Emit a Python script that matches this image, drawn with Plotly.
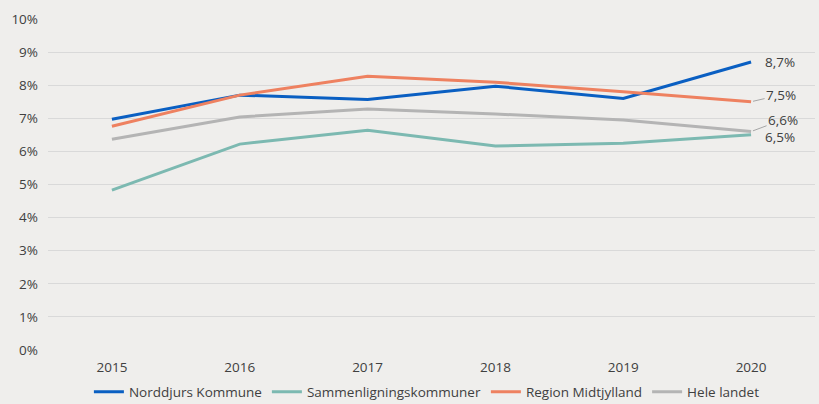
import plotly.graph_objects as go

years = ["2015", "2016", "2017", "2018", "2019", "2020"]
norddjurs = [6.97, 7.70, 7.57, 7.97, 7.60, 8.70]
sammenligning = [4.83, 6.22, 6.64, 6.16, 6.25, 6.50]
region = [6.76, 7.70, 8.27, 8.09, 7.80, 7.50]
hele_landet = [6.37, 7.04, 7.28, 7.13, 6.95, 6.60]

series = [
    ("Norddjurs Kommune", norddjurs, "#0a5fc2"),
    ("Sammenligningskommuner", sammenligning, "#7cb9b1"),
    ("Region Midtjylland", region, "#ee8160"),
    ("Hele landet", hele_landet, "#b4b4b4"),
]

end_labels = [
    # (series values, text, ax, ay, leader)
    (norddjurs, "8,7%", 29, 0, False),
    (region, "7,5%", 30, -7, True),
    (hele_landet, "6,6%", 32, -12, True),
    (sammenligning, "6,5%", 29, 2, False),
]

FONT = "Open Sans"
FS = 13.5

fig = go.Figure()
for name, vals, col in series:
    fig.add_trace(go.Scatter(
        x=years, y=vals, mode="lines", name=name,
        line=dict(color=col, width=3),
    ))

last_idx = len(years) - 1
for vals, txt, ax, ay, leader in end_labels:
    if leader:
        fig.add_annotation(
            x=last_idx, y=vals[-1], xref="x", yref="y", text=txt,
            showarrow=True, arrowhead=0, arrowwidth=1, arrowcolor="#a6a6a6",
            ax=ax, ay=ay, xanchor="center", yanchor="middle", standoff=2,
            font=dict(family=FONT, size=FS, color="#404040"),
        )
    else:
        fig.add_annotation(
            x=last_idx, y=vals[-1], xref="x", yref="y", text=txt,
            showarrow=False, xshift=ax, yshift=-ay,
            xanchor="center", yanchor="middle",
            font=dict(family=FONT, size=FS, color="#404040"),
        )

fig.update_layout(
    width=819, height=404,
    margin=dict(l=48, r=4, t=19, b=54),
    paper_bgcolor="#efeeec", plot_bgcolor="#efeeec",
    font=dict(family=FONT, size=FS, color="#404040"),
    showlegend=True,
    legend=dict(
        orientation="h", x=0.494, xanchor="center",
        yref="container", y=0.03, yanchor="middle",
        font=dict(family=FONT, size=FS, color="#404040"),
        itemwidth=30, tracegroupgap=0, bgcolor="rgba(0,0,0,0)",
    ),
    xaxis=dict(
        type="category", range=[-0.5, 5.5], showgrid=False, showline=False,
        zeroline=False, ticks="", tickfont=dict(size=FS), ticklabelstandoff=7,
        automargin=False,
    ),
    yaxis=dict(
        range=[0, 10], dtick=1, ticksuffix="%", showgrid=True,
        gridcolor="#d9d9d9", gridwidth=1, zeroline=False, showline=False,
        ticks="", tickfont=dict(size=FS), ticklabelstandoff=9,
        automargin=False,
    ),
)

fig.write_html(
    "out.html",
    config={"displayModeBar": False},
    post_script="document.body.style.margin='0';document.body.style.overflow='hidden';",
)
